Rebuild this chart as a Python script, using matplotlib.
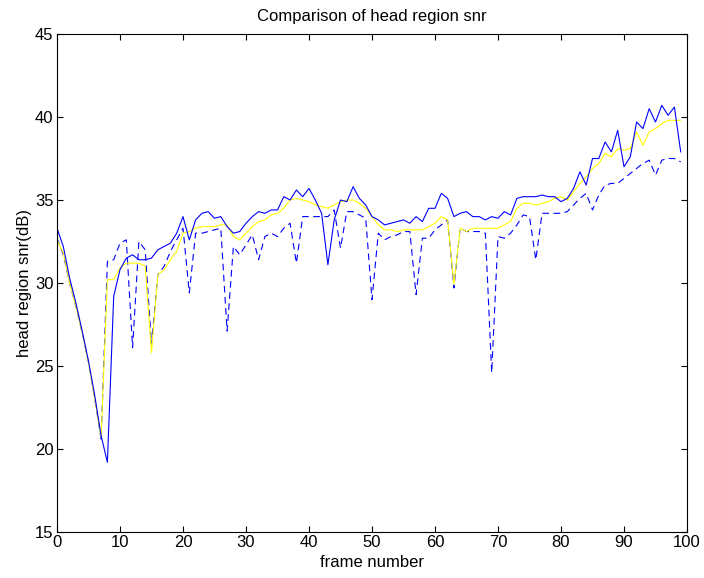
import numpy as np
import matplotlib
matplotlib.use("Agg")
import matplotlib.pyplot as plt

plt.rcParams['font.family'] = ['Liberation Sans', 'DejaVu Sans']

frames = np.arange(100)

# solid blue line
snr_solid = [33.3, 32.2, 30.3, 28.8, 27.1, 25.3, 23.2, 20.8, 19.2, 29.2,
             30.8, 31.5, 31.7, 31.4, 31.4, 31.5, 32.0, 32.2, 32.4, 33.0,
             34.0, 32.6, 33.8, 34.2, 34.3, 33.9, 34.0, 33.4, 33.0, 33.1,
             33.6, 34.0, 34.3, 34.2, 34.4, 34.4, 35.2, 35.0, 35.6, 35.2,
             35.7, 35.0, 34.2, 31.1, 33.8, 35.0, 34.9, 35.8, 35.1, 34.7,
             34.0, 33.8, 33.5, 33.6, 33.7, 33.8, 33.6, 34.0, 33.7, 34.5,
             34.5, 35.4, 35.1, 34.0, 34.2, 34.3, 34.0, 34.0, 33.8, 34.0,
             33.9, 34.3, 34.1, 35.1, 35.2, 35.2, 35.2, 35.3, 35.2, 35.2,
             34.9, 35.1, 35.7, 36.7, 35.9, 37.5, 37.5, 38.5, 37.9, 39.2,
             37.0, 37.6, 39.7, 39.3, 40.5, 39.7, 40.7, 40.1, 40.6, 37.9]

# yellow line
snr_yellow = [32.6, 31.8, 30.0, 28.6, 27.0, 25.2, 23.0, 20.7, 30.2, 30.2,
              30.9, 31.2, 31.2, 31.2, 31.0, 25.8, 30.5, 30.8, 31.4, 31.9,
              33.0, 33.1, 33.3, 33.4, 33.4, 33.4, 33.5, 33.5, 32.8, 32.6,
              33.0, 33.4, 33.7, 33.8, 34.1, 34.2, 34.5, 35.0, 35.1, 35.0,
              34.9, 34.7, 34.6, 34.5, 34.7, 34.9, 35.0, 35.0, 34.8, 34.5,
              34.0, 33.5, 33.2, 33.2, 33.1, 33.2, 33.2, 33.2, 33.2, 33.4,
              33.6, 34.0, 33.8, 29.9, 33.3, 33.1, 33.3, 33.3, 33.3, 33.3,
              33.3, 33.5, 33.7, 34.5, 34.8, 34.8, 34.7, 34.8, 34.9, 35.1,
              35.2, 35.0, 35.5, 36.0, 36.4, 36.9, 37.2, 37.8, 37.6, 38.1,
              38.0, 38.1, 39.1, 38.3, 39.1, 39.3, 39.6, 39.8, 39.8, 39.8]

# dashed blue line
snr_dashed = [32.7, 31.7, 30.0, 28.6, 27.0, 25.2, 23.0, 20.6, 31.3, 31.4,
              32.4, 32.6, 26.1, 32.5, 32.0, 26.3, 30.5, 31.0, 31.9, 32.6,
              33.3, 29.4, 33.0, 33.0, 33.1, 33.2, 33.3, 27.1, 32.2, 31.7,
              32.3, 32.9, 31.4, 32.8, 33.0, 32.8, 33.3, 33.6, 31.2, 34.0,
              34.0, 34.0, 34.0, 34.0, 34.4, 32.1, 34.3, 34.3, 34.1, 33.9,
              29.0, 33.0, 32.6, 32.8, 32.9, 33.1, 33.1, 29.3, 32.7, 32.7,
              33.2, 33.5, 33.8, 29.7, 33.3, 33.1, 33.1, 33.1, 33.0, 24.6,
              32.8, 32.7, 33.0, 33.5, 34.1, 34.0, 31.4, 34.2, 34.2, 34.2,
              34.2, 34.3, 34.7, 35.1, 35.4, 34.4, 35.3, 35.9, 36.0, 36.0,
              36.3, 36.6, 36.9, 37.2, 37.4, 36.5, 37.4, 37.5, 37.5, 37.3]

fig = plt.figure(figsize=(7.04, 5.78), dpi=100)
ax = fig.add_axes([57/704, 1 - 532/578, 630/704, 498/578])

ax.plot(frames, snr_dashed, color='#0000ff', lw=0.8, linestyle=(0, (6, 4)))
ax.plot(frames, snr_yellow, color='#ffff00', lw=0.8)
ax.plot(frames, snr_solid, color='#0000ff', lw=0.8)

ax.set_xlim(0, 100)
ax.set_ylim(15, 45)
ax.set_xticks(np.arange(0, 101, 10))
ax.set_yticks(np.arange(15, 46, 5))
ax.tick_params(direction='in', top=True, right=True, labelsize=12, length=4.5, pad=2.5)
for s in ax.spines.values():
    s.set_linewidth(0.8)

ax.set_xlabel('frame number', fontsize=12, labelpad=3)
ax.set_ylabel('head region snr(dB)', fontsize=12, labelpad=2)
ax.set_title('Comparison of head region snr', fontsize=12, pad=9)

fig.savefig('out.png', dpi=100)
